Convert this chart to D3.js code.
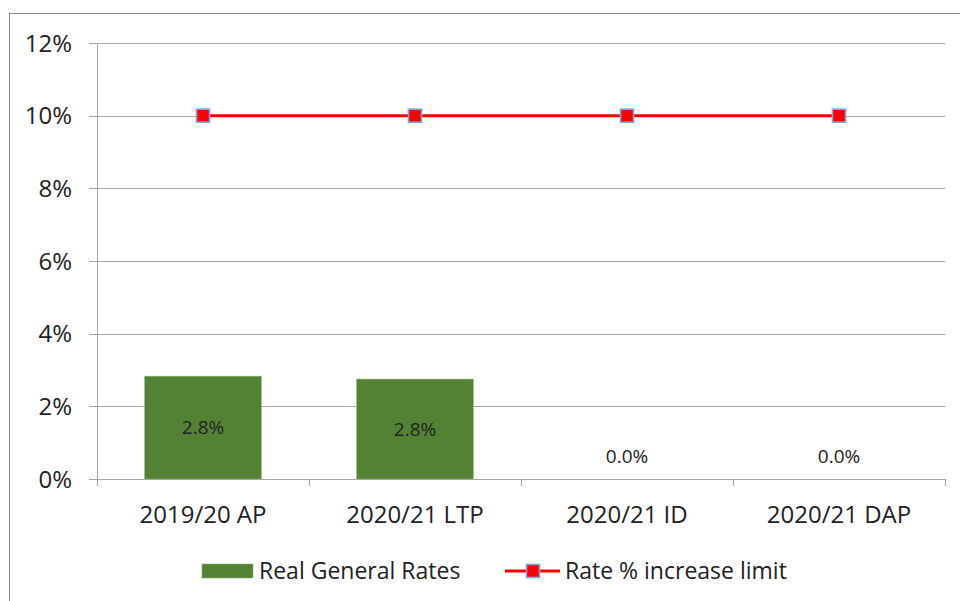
<!DOCTYPE html>
<html>
<head>
<meta charset="utf-8">
<script src="https://cdn.jsdelivr.net/npm/d3@7"></script>
<style>
  body { margin: 0; background: #fff; }
  text { font-family: "Open Sans", "Noto Sans", sans-serif; fill: #222; }
</style>
</head>
<body>
<div id="chart"></div>
<script>
var categories = ['2019/20 AP', '2020/21 LTP', '2020/21 ID', '2020/21 DAP'];
var realRates = [2.83, 2.75, 0, 0];
var rateLimit = [10, 10, 10, 10];
var yTicks = [0, 2, 4, 6, 8, 10, 12];

var W = 960, H = 601;
var margin = {left: 97, right: 15, top: 43, bottom: 122};

var svg = d3.select('#chart').append('svg')
    .attr('width', W)
    .attr('height', H);

// outer frame
svg.append('rect')
    .attr('x', 9.5).attr('y', 13.5)
    .attr('width', 960).attr('height', 600)
    .attr('fill', 'none')
    .attr('stroke', '#888')
    .attr('stroke-width', 1);

var x = d3.scaleBand()
    .domain(categories)
    .range([margin.left, W - margin.right]);

var y = d3.scaleLinear()
    .domain([0, 12])
    .range([H - margin.bottom, margin.top]);

// gridlines
svg.append('g').selectAll('line')
    .data(yTicks)
    .enter().append('line')
    .attr('x1', margin.left - 8)
    .attr('x2', W - margin.right)
    .attr('y1', function(d) { return Math.round(y(d)) + 0.5; })
    .attr('y2', function(d) { return Math.round(y(d)) + 0.5; })
    .attr('stroke', '#a6a6a6')
    .attr('stroke-width', 1);

// y axis line
svg.append('line')
    .attr('x1', margin.left + 0.5).attr('x2', margin.left + 0.5)
    .attr('y1', y(12)).attr('y2', y(0))
    .attr('stroke', '#a6a6a6');

// y tick labels
svg.append('g').selectAll('text')
    .data(yTicks)
    .enter().append('text')
    .attr('x', 72)
    .attr('y', function(d) { return y(d); })
    .attr('dy', '0.36em')
    .attr('text-anchor', 'end')
    .style('font-size', '24px')
    .text(function(d) { return d + '%'; });

// x tick marks at band edges
var edges = categories.map(function(c) { return x(c); }).concat([W - margin.right]);
svg.append('g').selectAll('line')
    .data(edges)
    .enter().append('line')
    .attr('x1', function(d) { return Math.round(d) + 0.5; })
    .attr('x2', function(d) { return Math.round(d) + 0.5; })
    .attr('y1', y(0))
    .attr('y2', y(0) + 7)
    .attr('stroke', '#a6a6a6');

// x labels
svg.append('g').selectAll('text')
    .data(categories)
    .enter().append('text')
    .attr('x', function(d) { return x(d) + x.bandwidth() / 2; })
    .attr('y', y(0) + 44)
    .attr('text-anchor', 'middle')
    .style('font-size', '24px')
    .text(function(d) { return d; });

// bars
var barW = x.bandwidth() * 0.55;
svg.append('g').selectAll('rect')
    .data(realRates)
    .enter().append('rect')
    .attr('x', function(d, i) { return x(categories[i]) + (x.bandwidth() - barW) / 2; })
    .attr('y', function(d) { return y(d); })
    .attr('width', barW)
    .attr('height', function(d) { return y(0) - y(d); })
    .attr('fill', '#548235')
    .attr('stroke', '#8fb07a')
    .attr('stroke-width', 0.6);

// bar labels
svg.append('g').selectAll('text')
    .data(realRates)
    .enter().append('text')
    .attr('x', function(d, i) { return x(categories[i]) + x.bandwidth() / 2; })
    .attr('y', function(d) { return d > 0 ? (y(d) + y(0)) / 2 : y(0) - 23; })
    .attr('dy', '0.36em')
    .attr('text-anchor', 'middle')
    .style('font-size', '19px')
    .text(function(d) { return d.toFixed(1) + '%'; });

// limit line
var line = d3.line()
    .x(function(d, i) { return x(categories[i]) + x.bandwidth() / 2; })
    .y(function(d) { return y(d); });

svg.append('path')
    .datum(rateLimit)
    .attr('d', line)
    .attr('fill', 'none')
    .attr('stroke', '#ff0000')
    .attr('stroke-width', 3);

svg.append('g').selectAll('rect')
    .data(rateLimit)
    .enter().append('rect')
    .attr('x', function(d, i) { return x(categories[i]) + x.bandwidth() / 2 - 6.5; })
    .attr('y', function(d) { return y(d) - 6.5; })
    .attr('width', 13)
    .attr('height', 13)
    .attr('fill', '#ff0000')
    .attr('stroke', '#7aa7dc')
    .attr('stroke-width', 1.6);

// legend
var lg = svg.append('g');
lg.append('rect')
    .attr('x', 202).attr('y', 564)
    .attr('width', 51).attr('height', 14)
    .attr('fill', '#548235')
    .attr('stroke', '#8fb07a')
    .attr('stroke-width', 0.6);
lg.append('text')
    .attr('x', 259).attr('y', 571)
    .attr('dy', '0.36em')
    .style('font-size', '23px')
    .text('Real General Rates');

lg.append('line')
    .attr('x1', 505).attr('x2', 560)
    .attr('y1', 571).attr('y2', 571)
    .attr('stroke', '#ff0000')
    .attr('stroke-width', 3);
lg.append('rect')
    .attr('x', 526.5).attr('y', 564.5)
    .attr('width', 13).attr('height', 13)
    .attr('fill', '#ff0000')
    .attr('stroke', '#7aa7dc')
    .attr('stroke-width', 1.6);
lg.append('text')
    .attr('x', 565).attr('y', 571)
    .attr('dy', '0.36em')
    .style('font-size', '23px')
    .text('Rate % increase limit');
</script>
</body>
</html>
